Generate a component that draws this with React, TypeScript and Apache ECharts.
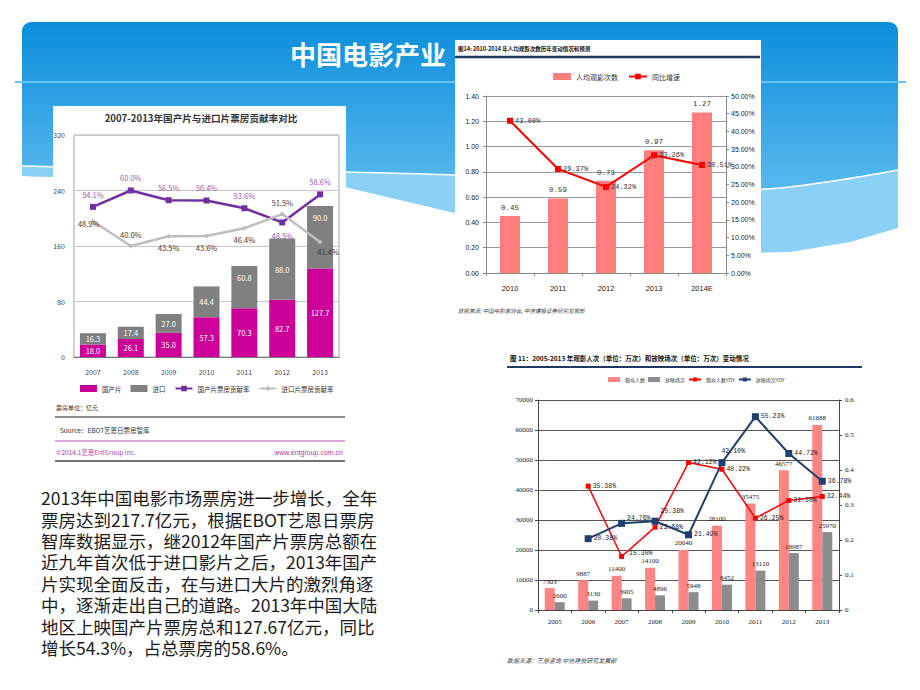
import React, { useEffect, useRef } from 'react';
import * as echarts from 'echarts';

// ---------- data ----------
const boxYears = ['2007', '2008', '2009', '2010', '2011', '2012', '2013'];
const domesticBox = [18.0, 26.1, 35.0, 57.3, 70.3, 82.7, 127.7];
const importBox = [16.3, 17.4, 27.0, 44.4, 60.8, 88.0, 90.0];
const domesticShare = [54.1, 60.0, 56.5, 56.4, 53.6, 48.5, 58.6];
const importShare = [48.9, 40.0, 43.5, 43.6, 46.4, 51.5, 41.4];

const perCapitaYears = ['2010', '2011', '2012', '2013', '2014E'];
const perCapitaVisits = [0.45, 0.59, 0.73, 0.97, 1.27];
const perCapitaGrowth = [0.43, 0.2937, 0.2432, 0.3326, 0.3051];

const admissionYears = ['2005', '2006', '2007', '2008', '2009', '2010', '2011', '2012', '2013'];
const audience = [7303, 9887, 11400, 14100, 20040, 28100, 35475, 46577, 61688];
const screenings = [2600, 3130, 3905, 4896, 5948, 8452, 13120, 18987, 25970];
const audienceYoy = [null, 0.3538, 0.153, 0.2368, 0.4212, 0.4022, 0.2625, 0.313, 0.3244];
const screeningYoy = [null, 0.2038, 0.2476, 0.2538, 0.2149, 0.421, 0.5523, 0.4472, 0.3678];

const slideTitle = '中国电影产业';
const leftTitle = '2007-2013年国产片与进口片票房贡献率对比';
const topRightTitle = '图14: 2010-2014 年人均观影次数历年变动情况和预测';
const topRightSource = '数据来源: 中国电影家协会, 中信建投证券研究发展部';
const bottomTitle = '图 11：2005-2013 年观影人次（单位：万次）和放映场次（单位：万次）变动情况';
const bottomSource = '数据来源：艺恩咨询 中信建投研究发展部';
const paragraph = [
  '2013年中国电影市场票房进一步增长，全年',
  '票房达到217.7亿元，根据EBOT艺恩日票房',
  '智库数据显示，继2012年国产片票房总额在',
  '近九年首次低于进口影片之后，2013年国产',
  '片实现全面反击，在与进口大片的激烈角逐',
  '中，逐渐走出自己的道路。2013年中国大陆',
  '地区上映国产片票房总和127.67亿元，同比',
  '增长54.3%，占总票房的58.6%。',
];

const CJK = 'Noto Sans CJK SC';
const SANS = 'Liberation Sans';
const SERIF = 'Liberation Serif';
const MONO = 'Liberation Mono';

function txt(text: string, x: number, y: number, size: number, o: any = {}) {
  return {
    type: 'text',
    x,
    y,
    z: o.z ?? 5,
    style: {
      text,
      fontSize: size,
      fontFamily: o.family || CJK,
      fontWeight: o.weight || 'normal',
      fontStyle: o.italic ? 'italic' : 'normal',
      fill: o.color || '#333',
      textAlign: o.align || 'left',
      textVerticalAlign: o.valign || 'middle',
      lineHeight: o.lineHeight,
    },
  };
}

function hline(x1: number, x2: number, y: number, color: string, w: number, z = 5) {
  return { type: 'line', z, shape: { x1, y1: y, x2, y2: y }, style: { stroke: color, lineWidth: w } };
}

function buildOption() {
  const pct2 = (v: number) => (v * 100).toFixed(2) + '%';

  // background decoration
  const inner = [[22, 166], [120, 168], [240, 170], [345, 172], [455, 175], [560, 181], [660, 188], [730, 190], [780, 188], [840, 180], [898, 170]];
  const outer = [[22, 176], [150, 180], [260, 183], [345, 187], [455, 213], [560, 232], [660, 246], [740, 253], [790, 252], [850, 242], [898, 228]];

  const graphic: any[] = [
    {
      type: 'rect', z: -10,
      shape: { x: 22, y: 22, width: 876, height: 240, r: [9, 9, 0, 0] },
      style: {
        fill: new echarts.graphic.LinearGradient(0, 0, 0, 1, [
          { offset: 0, color: '#0A8EDB' },
          { offset: 0.6, color: '#4FB3EB' },
          { offset: 1, color: '#6EC6F3' },
        ]),
      },
    },
    { type: 'polygon', z: -9, shape: { points: inner.concat(outer.slice().reverse()) }, style: { fill: '#8BD1F7' } },
    { type: 'polygon', z: -8, shape: { points: outer.concat([[898, 280], [22, 280]]) }, style: { fill: '#ffffff' } },
    { type: 'polyline', z: -7, shape: { points: inner, smooth: 0.3 }, style: { stroke: '#ffffff', lineWidth: 1.5, fill: null } },
    hline(15, 906, 82, '#62C4F8', 2, -7),
    { ...txt(slideTitle, 290, 53, 26, { weight: 'bold', color: '#ffffff' }), z: -6 },
    // white chart panels
    { type: 'rect', z: -5, shape: { x: 53, y: 106, width: 293, height: 356 }, style: { fill: '#ffffff' } },
    { type: 'rect', z: -5, shape: { x: 455, y: 40, width: 306, height: 280 }, style: { fill: '#ffffff' } },
    // left chart texts
    txt(leftTitle, 201, 118, 9.6, { weight: 'bold', color: '#333', align: 'center' }),
    txt('票房单位：亿元', 56, 407, 6, { color: '#333' }),
    hline(55, 345, 417, '#666', 1.5),
    txt('Source：EBOT艺恩日票房智库', 60, 430, 6.5, { color: '#333' }),
    hline(55, 345, 441, '#D58BC8', 1.5),
    txt('©2014.1艺恩EntGroup Inc.', 56, 452, 6.5, { color: '#B0409F' }),
    txt('www.entgroup.com.cn', 343, 452, 7, { color: '#B0409F', align: 'right', family: SANS }),
    hline(55, 345, 461, '#444', 1.5),
    // top-right chart texts
    txt(topRightTitle, 458, 49, 5.5, { weight: 'bold', color: '#111' }),
    hline(455, 760, 57, '#1F3864', 2.5),
    txt(topRightSource, 458, 311, 5.5, { italic: true, color: '#444' }),
    // bottom-right chart texts
    txt(bottomTitle, 510, 358, 6.5, { weight: 'bold', color: '#111' }),
    hline(507, 862, 367, '#1F3864', 2),
    txt(bottomSource, 507, 660, 6, { italic: true, color: '#444' }),
    // body paragraph (one multi-line text block)
    txt(paragraph.join('\n'), 41, 487, 17.5, { color: '#1a1a1a', valign: 'top', lineHeight: 21.4 }),
  ];

  // per-item label placements (style, not data)
  const importBarPlace = ['inside', 'inside', 'inside', 'inside', 'insideTop', 'inside', 'insideTop'];
  const domShareOffsetDown = [false, false, false, false, false, true, false];
  const impSharePlace = ['left', 'top', 'bottom', 'bottom', 'bottom', 'top', 'bottom'];
  const screenOffsets: any = { 2: [0, -5], 3: [0, -10], 5: [-6, -11] };
  const audienceOffsets: any = { 2: [3, -3] };

  const series: any[] = [
    // left chart
    {
      name: '国产片', type: 'bar', xAxisIndex: 0, yAxisIndex: 0, stack: 'box', barWidth: 26,
      itemStyle: { color: '#CC0099' },
      label: { show: true, position: 'inside', color: '#fff', fontSize: 7.5, fontFamily: CJK, formatter: (p: any) => p.value.toFixed(1) },
      data: domesticBox,
    },
    {
      name: '进口', type: 'bar', xAxisIndex: 0, yAxisIndex: 0, stack: 'box', barWidth: 26,
      itemStyle: { color: '#808080' },
      label: { show: true, color: '#fff', fontSize: 7.5, fontFamily: CJK, formatter: (p: any) => p.value.toFixed(1) },
      data: importBox.map((v, i) => ({ value: v, label: { position: importBarPlace[i], distance: 8 } })),
    },
    {
      name: '国产片票房贡献率', type: 'line', xAxisIndex: 0, yAxisIndex: 1,
      symbol: 'rect', symbolSize: 6, lineStyle: { color: '#7030A0', width: 2.5 }, itemStyle: { color: '#7030A0' },
      label: { show: true, position: 'top', distance: 6, color: '#8A5FB5', fontSize: 7.5, fontFamily: CJK, formatter: (p: any) => p.value.toFixed(1) + '%' },
      data: domesticShare.map((v, i) => (domShareOffsetDown[i] ? { value: v, label: { position: 'bottom' } } : v)),
    },
    {
      name: '进口片票房贡献率', type: 'line', xAxisIndex: 0, yAxisIndex: 1,
      symbol: 'diamond', symbolSize: 5, lineStyle: { color: '#BEBEBE', width: 2.5 }, itemStyle: { color: '#BEBEBE' },
      label: { show: true, distance: 5, color: '#3a3a3a', fontSize: 7.5, fontFamily: CJK, formatter: (p: any) => p.value.toFixed(1) + '%' },
      data: importShare.map((v, i) => ({ value: v, label: { position: impSharePlace[i], offset: i === 0 ? [14, 2] : i === 6 ? [8, -2] : [0, 0] } })),
    },
    // top-right chart
    {
      name: '人均观影次数', type: 'bar', xAxisIndex: 1, yAxisIndex: 2, barWidth: 20,
      itemStyle: { color: '#FF7F7F' },
      label: { show: true, position: 'top', distance: 4, color: '#333', fontSize: 7.5, fontFamily: MONO, formatter: (p: any) => p.value.toFixed(2) },
      data: perCapitaVisits,
    },
    {
      name: '同比增速', type: 'line', xAxisIndex: 1, yAxisIndex: 3,
      symbol: 'rect', symbolSize: 6, lineStyle: { color: '#FF0000', width: 2 }, itemStyle: { color: '#FF0000' },
      label: { show: true, position: 'right', distance: 2, color: '#333', fontSize: 7, fontFamily: MONO, formatter: (p: any) => pct2(p.value) },
      data: perCapitaGrowth,
    },
    // bottom-right chart
    {
      name: '观众人数', type: 'bar', xAxisIndex: 2, yAxisIndex: 4, barWidth: 10, barGap: '0%',
      itemStyle: { color: '#FF8585' },
      label: { show: true, position: 'top', distance: 3, color: '#222', fontSize: 7, fontFamily: SERIF, formatter: (p: any) => String(p.value) },
      data: audience,
    },
    {
      name: '放映场次', type: 'bar', xAxisIndex: 2, yAxisIndex: 4, barWidth: 10, barGap: '0%',
      itemStyle: { color: '#8C8C8C' },
      label: { show: true, position: 'top', distance: 3, color: '#222', fontSize: 7, fontFamily: SERIF, formatter: (p: any) => String(p.value) },
      data: screenings,
    },
    {
      name: '观众人数YOY', type: 'line', xAxisIndex: 2, yAxisIndex: 5,
      symbol: 'rect', symbolSize: 5, lineStyle: { color: '#FF0000', width: 1.5 }, itemStyle: { color: '#FF0000' },
      label: { show: true, position: 'right', distance: 2, color: '#222', fontSize: 6.5, fontFamily: MONO, formatter: (p: any) => (p.value == null ? '' : pct2(p.value)) },
      data: audienceYoy.map((v, i) => (audienceOffsets[i] ? { value: v, label: { offset: audienceOffsets[i] } } : v)),
    },
    {
      name: '放映场次YOY', type: 'line', xAxisIndex: 2, yAxisIndex: 5,
      symbol: 'rect', symbolSize: 7, lineStyle: { color: '#1F3F6E', width: 2 }, itemStyle: { color: '#1F3F6E' },
      label: { show: true, position: 'right', distance: 2, color: '#222', fontSize: 6.5, fontFamily: MONO, formatter: (p: any) => (p.value == null ? '' : pct2(p.value)) },
      data: screeningYoy.map((v, i) => (screenOffsets[i] ? { value: v, label: { offset: screenOffsets[i] } } : v)),
    },
  ];

  return {
    animation: false,
    backgroundColor: 'transparent',
    textStyle: { fontFamily: CJK },
    graphic,
    grid: [
      { left: 74, top: 135, width: 265, height: 222, show: true, borderColor: '#a8a8a8', borderWidth: 1, backgroundColor: 'transparent' },
      { left: 486, top: 96, width: 240, height: 177 },
      { left: 538, top: 400, width: 301, height: 210 },
    ],
    legend: [
      {
        selectedMode: false, left: 80, top: 385, padding: 0, itemWidth: 17, itemHeight: 7, itemGap: 9,
        textStyle: { fontSize: 6.5, color: '#333', fontFamily: CJK },
        data: [{ name: '国产片', icon: 'rect' }, { name: '进口', icon: 'rect' }, '国产片票房贡献率', '进口片票房贡献率'],
      },
      {
        selectedMode: false, left: 553, top: 73, padding: 0, itemWidth: 18, itemHeight: 7, itemGap: 10,
        textStyle: { fontSize: 7, color: '#333', fontFamily: CJK },
        data: [{ name: '人均观影次数', icon: 'rect' }, '同比增速'],
      },
      {
        selectedMode: false, left: 608, top: 377, padding: 0, itemWidth: 12, itemHeight: 5, itemGap: 3,
        textStyle: { fontSize: 5, color: '#333', fontFamily: CJK },
        data: [{ name: '观众人数', icon: 'rect' }, { name: '放映场次', icon: 'rect' }, '观众人数YOY', '放映场次YOY'],
      },
    ],
    xAxis: [
      {
        type: 'category', gridIndex: 0, data: boxYears,
        axisLine: { lineStyle: { color: '#777' } }, axisTick: { show: false },
        axisLabel: { fontSize: 7, color: '#444', fontFamily: CJK, margin: 11 },
      },
      {
        type: 'category', gridIndex: 1, data: perCapitaYears,
        axisLine: { lineStyle: { color: '#888' } }, axisTick: { show: true, length: 3, lineStyle: { color: '#888' } },
        axisLabel: { fontSize: 7.5, color: '#222', fontFamily: SANS, margin: 11 },
      },
      {
        type: 'category', gridIndex: 2, data: admissionYears,
        axisLine: { lineStyle: { color: '#444' } }, axisTick: { show: true, length: 3, lineStyle: { color: '#444' } },
        axisLabel: { fontSize: 7, color: '#222', fontFamily: SERIF, margin: 8 },
      },
    ],
    yAxis: [
      {
        type: 'value', gridIndex: 0, min: 0, max: 320, interval: 80,
        axisLine: { show: false }, axisTick: { show: false },
        axisLabel: { fontSize: 7, color: '#444', fontFamily: CJK, margin: 9 },
        splitLine: { lineStyle: { color: '#c8c8c8' } },
      },
      { type: 'value', gridIndex: 0, min: 0, max: 80, show: false, splitLine: { show: false } },
      {
        type: 'value', gridIndex: 1, min: 0, max: 1.4, interval: 0.2,
        axisLine: { show: true, lineStyle: { color: '#888' } }, axisTick: { show: true, length: 3, lineStyle: { color: '#888' } },
        axisLabel: { fontSize: 7, color: '#222', fontFamily: SANS, margin: 7, formatter: (v: number) => v.toFixed(2) },
        splitLine: { lineStyle: { color: '#9a9a9a' } },
      },
      {
        type: 'value', gridIndex: 1, position: 'right', min: 0, max: 0.5, interval: 0.05,
        axisLine: { show: true, lineStyle: { color: '#888' } }, axisTick: { show: true, length: 3, lineStyle: { color: '#888' } },
        axisLabel: { fontSize: 7, color: '#222', fontFamily: SANS, margin: 5, formatter: (v: number) => pct2(v) },
        splitLine: { show: false },
      },
      {
        type: 'value', gridIndex: 2, min: 0, max: 70000, interval: 10000,
        axisLine: { show: true, lineStyle: { color: '#444' } }, axisTick: { show: true, length: 3, lineStyle: { color: '#444' } },
        axisLabel: { fontSize: 7, color: '#222', fontFamily: SERIF, margin: 5, formatter: (v: number) => String(v) },
        splitLine: { lineStyle: { color: '#555' } },
      },
      {
        type: 'value', gridIndex: 2, position: 'right', min: 0, max: 0.6, interval: 0.1,
        axisLine: { show: true, lineStyle: { color: '#444' } }, axisTick: { show: true, length: 3, lineStyle: { color: '#444' } },
        axisLabel: { fontSize: 7, color: '#222', fontFamily: SERIF, margin: 6, formatter: (v: number) => String(+v.toFixed(1)) },
        splitLine: { show: false },
      },
    ],
    series,
  };
}

export default function App() {
  const ref = useRef<HTMLDivElement>(null);
  useEffect(() => {
    if (!ref.current) return;
    const chart = echarts.init(ref.current, null, { renderer: 'svg' });
    chart.setOption(buildOption() as any);
    return () => chart.dispose();
  }, []);
  return (
    <div
      ref={ref}
      style={{ position: 'absolute', left: 0, top: 0, width: 920, height: 690, background: '#ffffff' }}
    />
  );
}
